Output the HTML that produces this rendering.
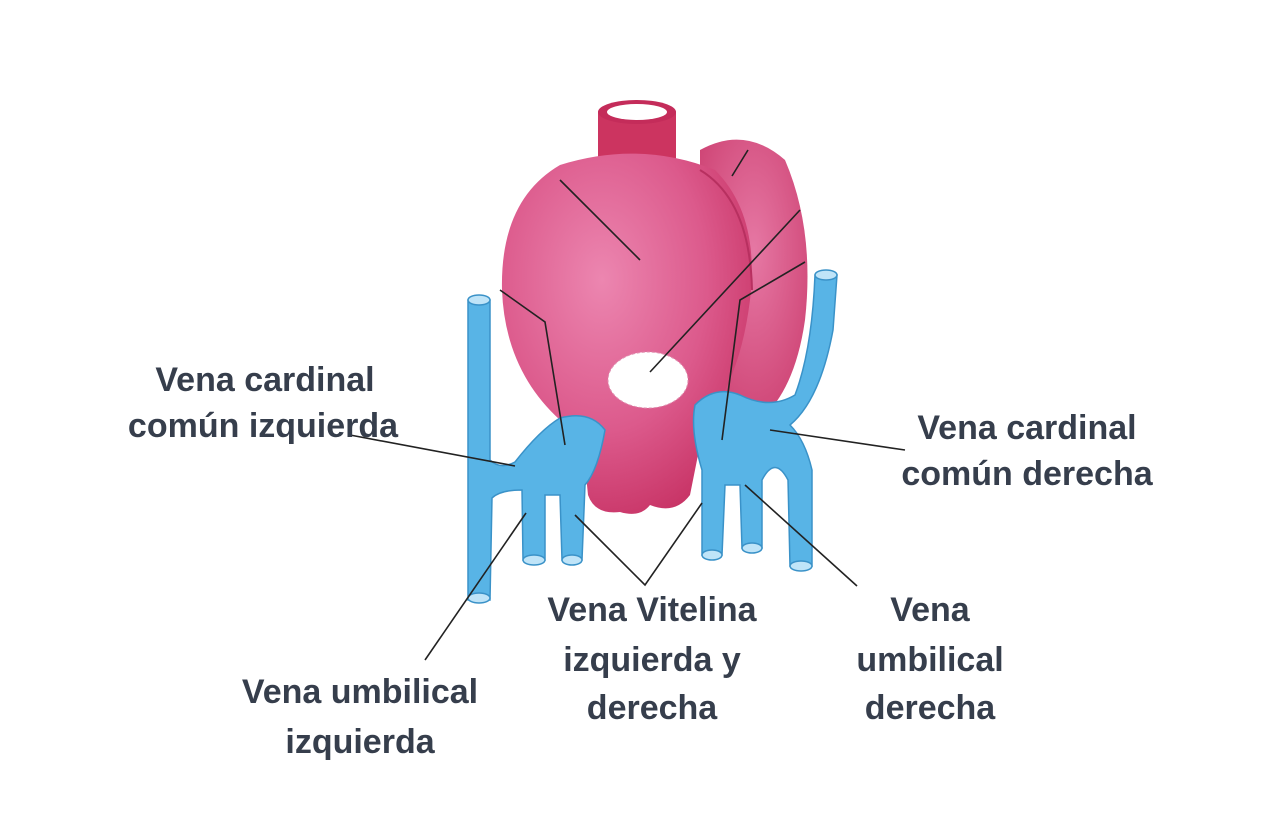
<!DOCTYPE html>
<html><head><meta charset="utf-8"><style>
html,body{margin:0;padding:0;background:#fff;}
svg{display:block}
text{font-family:"Liberation Sans",sans-serif;font-weight:bold;font-size:34px;fill:#363e4c;text-anchor:middle}
</style></head><body>
<svg width="1284" height="821" viewBox="0 0 1284 821" xmlns="http://www.w3.org/2000/svg">
<defs>
<radialGradient id="pk" cx="0.4" cy="0.35" r="0.7">
<stop offset="0" stop-color="#ec86b0"/><stop offset="0.6" stop-color="#dc5a8c"/><stop offset="1" stop-color="#c83466"/>
</radialGradient>
<radialGradient id="pk2" cx="0.5" cy="0.4" r="0.7">
<stop offset="0" stop-color="#e678a4"/><stop offset="1" stop-color="#cc3f70"/>
</radialGradient>
</defs>
<path d="M700,150 Q745,125 785,160 Q815,230 805,320 Q795,390 760,420 L700,400 Z" fill="url(#pk2)"/>
<rect x="598" y="112" width="78" height="70" fill="#cc3460"/>
<ellipse cx="637" cy="112" rx="39" ry="12" fill="#c42c5a"/>
<ellipse cx="637" cy="112" rx="30" ry="8" fill="#fff"/>
<path d="M560,165 Q640,140 715,170 Q760,215 750,300 Q740,380 705,420 Q695,470 690,495 Q675,515 650,505 Q640,518 620,512 Q595,515 588,495 Q585,450 560,420 Q505,370 502,290 Q500,200 560,165 Z" fill="url(#pk)"/>
<path d="M700,170 Q750,200 752,290" stroke="#b83060" stroke-width="2" fill="none"/>
<ellipse cx="648" cy="380" rx="40" ry="28" fill="#fff" stroke="#e090b0" stroke-dasharray="3 2"/>
<g fill="#58b4e6" stroke="#3a92c8" stroke-width="1.5">
<path d="M468,300 L490,300 L490,460 Q500,470 515,462 Q540,430 560,418 Q590,410 605,430 Q598,470 585,485 L582,560 L562,560 L560,495 L545,495 L545,560 L523,560 L522,490 Q500,490 492,498 L490,600 L468,600 Z"/>
<ellipse cx="479" cy="300" rx="11" ry="5" fill="#bfe4f8"/>
<ellipse cx="534" cy="560" rx="11" ry="5" fill="#bfe4f8"/>
<ellipse cx="572" cy="560" rx="10" ry="5" fill="#bfe4f8"/>
<ellipse cx="479" cy="598" rx="11" ry="5" fill="#bfe4f8"/>
<path d="M815,275 L837,275 L833,330 Q820,400 790,425 Q805,440 812,470 L812,566 L790,566 L788,480 Q775,455 762,480 L762,548 L742,548 L740,485 L725,485 L722,555 L702,555 L702,470 Q690,430 695,405 Q715,385 740,395 Q770,410 795,395 Q812,350 815,275 Z"/>
<ellipse cx="826" cy="275" rx="11" ry="5" fill="#bfe4f8"/>
<ellipse cx="712" cy="555" rx="10" ry="5" fill="#bfe4f8"/>
<ellipse cx="752" cy="548" rx="10" ry="5" fill="#bfe4f8"/>
<ellipse cx="801" cy="566" rx="11" ry="5" fill="#bfe4f8"/>
</g>
<g stroke="#222" stroke-width="1.6" fill="none">
<path d="M560,180 L640,260"/>
<path d="M748,150 L732,176"/>
<path d="M800,210 L650,372"/>
<path d="M500,290 L545,322 L565,445"/>
<path d="M805,262 L740,300 L722,440"/>
<path d="M350,435 L515,466"/>
<path d="M770,430 L905,450"/>
<path d="M425,660 L526,513"/>
<path d="M575,515 L645,585 L702,503"/>
<path d="M745,485 L857,586"/>
</g>
<text x="265" y="391">Vena cardinal</text>
<text x="263" y="437">común izquierda</text>
<text x="1027" y="439">Vena cardinal</text>
<text x="1027" y="485">común derecha</text>
<text x="652" y="621">Vena Vitelina</text>
<text x="652" y="671">izquierda y</text>
<text x="652" y="719">derecha</text>
<text x="930" y="621">Vena</text>
<text x="930" y="671">umbilical</text>
<text x="930" y="719">derecha</text>
<text x="360" y="703">Vena umbilical</text>
<text x="360" y="753">izquierda</text>
</svg>
</body></html>
